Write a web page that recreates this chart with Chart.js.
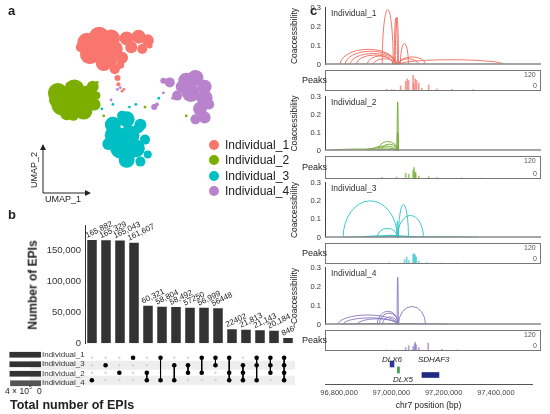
<!DOCTYPE html>
<html><head><meta charset="utf-8">
<script src="https://cdn.jsdelivr.net/npm/chart.js@4.4.0/dist/chart.umd.min.js"></script>
<style>
body{margin:0;width:550px;height:414px;position:relative;background:#fff;font-family:"Liberation Sans",Arial,sans-serif;overflow:hidden}
canvas{position:absolute}
.t{position:absolute;white-space:nowrap;color:#222}
</style></head><body>
<script>
// ---------- DATA ----------
const umapColors=['#F8766D','#7CAE00','#00BFC4','#B982CC'];
const umapLabels=['Individual_1','Individual_2','Individual_3','Individual_4'];
// cluster blobs [x,y,r] in UMAP-plot units
const umap1=[[82,35,10],[95,28,10],[108,30,9],[85,48,10],[100,45,10],[112,42,8],[100,58,8],[125,30,7],[138,28,7],[148,32,6],[130,40,6],[142,42,5],[120,52,6],[112,65,5],[115,75,3],[116,82,2],[75,40,5],[108,55,6],[150,38,3],[118,60,4]];
const umap2=[[50,92,10],[55,105,11],[68,88,10],[70,102,12],[82,95,10],[78,112,9],[60,115,7],[90,105,6],[48,100,7],[88,85,6],[67,118,5],[92,95,4]];
const umap3=[[110,128,8],[125,122,8],[140,128,6],[112,140,10],[128,140,10],[118,155,10],[135,155,9],[125,168,8],[140,170,5],[105,150,6],[145,145,5],[120,118,5],[148,162,4],[138,132,5]];
const umap4=[[190,78,8],[200,75,8],[210,85,7],[195,92,9],[210,98,8],[205,110,7],[210,120,6],[200,122,5],[172,80,5],[165,78,3],[180,95,5],[215,105,5],[185,85,6],[155,108,3],[158,105,2]];
const umapStray=[[120,90,0],[110,105,2],[108,100,3],[128,108,2],[135,105,2],[145,108,1],[98,110,2],[100,118,1],[115,88,3],[118,86,3],[160,98,2],[165,92,3],[175,98,3],[190,118,1],[212,108,1],[93,80,1],[60,82,0],[122,88,0]];

const barValues=[165882,165329,165043,161607,60321,58804,58492,57250,56999,56448,22402,21813,21143,20184,8469];
const barLabels=['165,882','165,329','165,043','161,607','60,321','58,804','58,492','57250','56,999','56448','22402','21,813','21,143','20,184','8469'];
const setRows=['Individual_1','Individual_3','Individual_2','Individual_4'];
const setMembers=[[4],[3],[2],[1],[2,4],[1,4],[3,4],[3,2],[1,2],[1,3],[1,2,4],[3,2,4],[1,3,4],[1,3,2],[1,3,2,4]];
const setTotals=[395000,394000,393000,386000];
const yTicksB=[0,50000,100000,150000];

const trackNames=['Individual_1','Individual_2','Individual_3','Individual_4'];
const trackColors=['#F26B5E','#6FA82C','#2CC3C8','#8877C2'];
// links [start, end, coaccessibility]
const links1=[[96964000,97006000,0.29],[97014000,97026000,0.25],[97010000,97022000,0.245],[97033000,97064000,0.11],[96804000,97018000,0.08],[96823000,97018000,0.07],[96842000,97018000,0.058],[96865000,97006000,0.05],[96907000,97006000,0.045],[96930000,97018000,0.03],[97026000,97129000,0.04],[97026000,97427000,0.025],[97026000,97102000,0.03]];
const links2=[[97022000,97024000,0.27],[97020000,97026000,0.10],[96949000,97022000,0.05],[96961000,97022000,0.035],[96926000,97022000,0.025],[96766000,97022000,0.008],[96900000,97022000,0.015]];
const links3=[[96815000,97022000,0.2],[97026000,97064000,0.18],[97022000,97121000,0.12],[96945000,97022000,0.05],[97020000,97024000,0.09],[96815000,97328000,0.005],[96880000,97090000,0.01],[96960000,97030000,0.012]];
const links4=[[97022000,97024000,0.25],[96796000,97022000,0.05],[96815000,97022000,0.035],[96869000,97022000,0.03],[96945000,97026000,0.07],[96953000,97026000,0.06],[96965000,97022000,0.04],[97026000,97129000,0.095],[96804000,97213000,0.005]];
// peaks [position, height]
const peaks1=[[96804000,10],[96842000,8],[96861000,6],[96911000,30],[96949000,55],[96961000,70],[96972000,60],[97006000,90],[97010000,40],[97022000,70],[97033000,60],[97049000,45],[97072000,15],[97125000,35],[97186000,12],[97301000,10],[97462000,8]];
const peaks2=[[96766000,8],[96880000,10],[96949000,30],[96972000,25],[97006000,45],[97014000,60],[97022000,35],[97026000,30],[97049000,15],[97125000,12],[97186000,8],[97377000,6],[97530000,5]];
const peaks3=[[96823000,6],[96880000,5],[96941000,25],[96957000,40],[96972000,20],[97006000,55],[97014000,60],[97022000,50],[97030000,40],[97049000,15],[97110000,8],[97224000,6],[97339000,5],[97492000,5]];
const peaks4=[[96804000,6],[96880000,5],[96949000,20],[96972000,30],[97006000,25],[97018000,40],[97022000,50],[97030000,35],[97049000,20],[97121000,45],[97224000,10],[97339000,6]];
const genes=[{name:'DLX6',s:96995000,e:97010000,c:'#2b3a9a'},{name:'DLX5',s:97023000,e:97031000,c:'#3aa34a'},{name:'SDHAF3',s:97117000,e:97182000,c:'#1f2a80'}];
const xTicksC=[96800000,97000000,97200000,97400000];
const xMinC=96746000, xMaxTrack=97569000, xMaxAxis=97538000;

// ---------- HELPERS ----------
Chart.defaults.animation=false;
Chart.defaults.font.family='"Liberation Sans",Arial,sans-serif';
function cv(l,t,w,h){const c=document.createElement('canvas');c.width=w;c.height=h;c.style.left=l+'px';c.style.top=t+'px';document.body.appendChild(c);return c;}
function txt(s,l,t,css){const d=document.createElement('div');d.className='t';d.textContent=s;d.style.left=l+'px';d.style.top=t+'px';if(css)d.style.cssText+=css;document.body.appendChild(d);return d;}
const base={responsive:false,maintainAspectRatio:false,plugins:{legend:{display:false},tooltip:{enabled:false}},events:[]};

// ---------- PANEL A ----------
const bub=(arr,c)=>({data:arr.map(p=>({x:p[0],y:p[1],r:p[2]})),backgroundColor:c,borderWidth:0});
new Chart(cv(0,0,290,200),{type:'bubble',data:{datasets:[
 bub(umap1,umapColors[0]),bub(umap2,umapColors[1]),bub(umap3,umapColors[2]),bub(umap4,umapColors[3]),
 {data:umapStray.map((p,i)=>({x:p[0],y:p[1],r:1.4})),backgroundColor:umapStray.map((p,i)=>umapColors[p[2]]),borderWidth:0}
]},options:{...base,layout:{padding:0},scales:{x:{display:false,min:0,max:290},y:{display:false,min:0,max:200,reverse:true}}}});
umapLabels.forEach((s,i)=>{const y=139+i*15.3;
 const d=document.createElement('div');d.style.cssText=`position:absolute;left:209px;top:${y+1}px;width:10px;height:10px;border-radius:50%;background:${umapColors[i]}`;document.body.appendChild(d);
 txt(s,225,y-1,'font-size:12px');});
document.body.insertAdjacentHTML('beforeend',`<svg style="position:absolute;left:0;top:0" width="290" height="200"><path d="M43,193 L43,147 M43,193 L88,193" stroke="#222" stroke-width="1" fill="none"/><path d="M40,150 L43,144 L46,150Z M85,190 L91,193 L85,196Z" fill="#222"/></svg>`);
txt('UMAP_2',16,165,'font-size:9px;transform:rotate(-90deg);transform-origin:center');
txt('UMAP_1',45,194,'font-size:9px');
txt('a',8,3,'font-size:13px;font-weight:bold');
txt('b',8,207,'font-size:13px;font-weight:bold');
txt('c',310,3,'font-size:13px;font-weight:bold');

// ---------- PANEL B ----------
const labelPlugin={id:'bl',afterDatasetsDraw(ch){const ctx=ch.ctx;const m=ch.getDatasetMeta(0);ctx.save();ctx.font='8px "Liberation Sans",Arial';ctx.fillStyle='#222';
 m.data.forEach((el,i)=>{ctx.save();ctx.translate(el.x-5,el.y-2);ctx.rotate(-Math.PI/7);ctx.fillText(barLabels[i],0,0);ctx.restore();});ctx.restore();}};
new Chart(cv(0,205,295,145),{type:'bar',data:{labels:barValues.map((v,i)=>'c'+i),datasets:[{data:barValues,backgroundColor:'#333',barPercentage:0.68,categoryPercentage:1}]},
 options:{...base,layout:{padding:{top:20,right:0,bottom:0}},scales:{x:{display:false},
 y:{min:0,max:190000,afterFit(s){s.width=85},afterBuildTicks(s){s.ticks=yTicksB.map(v=>({value:v}))},grid:{display:false,drawTicks:true,tickLength:3,color:'#333'},border:{color:'#333'},
 ticks:{color:'#333',font:{size:9.5},padding:1,callback:v=>v.toLocaleString('en-US')}}}},plugins:[labelPlugin]});
txt('Number of EPIs',-12,278,'font-size:12px;font-weight:bold;transform:rotate(-90deg);color:#222');

const stripe={id:'st',beforeDraw(ch){const y=ch.scales.y,ctx=ch.ctx;ctx.save();ctx.fillStyle='#eeeeee';[1,3].forEach(i=>{const p=y.getPixelForValue(i);ctx.fillRect(30,p-4.5,ch.width,9);});ctx.restore();}};
const bgDots=[];setRows.forEach((r,ri)=>barValues.forEach((v,i)=>bgDots.push({x:i,y:ri})));
const mds=[{data:bgDots,order:99,showLine:false,pointRadius:1.2,pointBackgroundColor:'#d6d6d6',pointBorderWidth:0}];
setMembers.forEach((mem,i)=>{const rows=[];setRows.forEach((r,ri)=>{if(mem.includes(+r.split('_')[1]))rows.push(ri);});
 mds.push({data:rows.map(ri=>({x:i,y:ri})),order:1,showLine:true,borderColor:'#000',backgroundColor:'#000',borderWidth:1,pointRadius:2.3,pointBackgroundColor:'#000',pointBorderColor:'#000',pointBorderWidth:0});});
new Chart(cv(0,350,295,38),{type:'line',data:{datasets:mds},options:{...base,layout:{padding:{left:85}},scales:{x:{type:'linear',display:false,min:-0.5,max:14.5},
 y:{type:'linear',display:false,min:-0.5,max:3.5,reverse:true}}},plugins:[stripe]});
setRows.forEach((r,i)=>txt(r,42,350+i*9.5-0.5,'font-size:8px;color:#333'));
new Chart(cv(9,350,32,38),{type:'bar',data:{labels:setRows,datasets:[{data:setTotals,backgroundColor:['#333','#333','#333','#555'],barPercentage:0.6,categoryPercentage:1}]},
 options:{...base,indexAxis:'y',layout:{padding:0},scales:{x:{display:false,min:0,max:400000,reverse:true},y:{display:false}}}});
txt('4 × 10',5,386,'font-size:8.5px');txt('5',29,384,'font-size:5px');txt('0',37,386,'font-size:8.5px');
txt('Total number of EPIs',10,398,'font-size:12.5px;font-weight:bold');

// ---------- PANEL C ----------
const arcPlugin={id:'arc',afterDatasetsDraw(ch,a,opt){const x=ch.scales.x,y=ch.scales.y,ctx=ch.ctx,ca=ch.chartArea;ctx.save();ctx.beginPath();ctx.rect(ca.left,ca.top-2,ca.right-ca.left,ca.bottom-ca.top+2);ctx.clip();
 ctx.strokeStyle=opt.color;ctx.lineWidth=0.9;const y0=y.getPixelForValue(0);
 opt.links.forEach(l=>{const x1=x.getPixelForValue(l[0]),x2=x.getPixelForValue(l[1]);ctx.beginPath();ctx.ellipse((x1+x2)/2,y0,Math.max((x2-x1)/2,0.6),y0-y.getPixelForValue(l[2]),0,Math.PI,2*Math.PI);ctx.stroke();});ctx.restore();}};
const boxPlugin={id:'box',afterDraw(ch){const ca=ch.chartArea,ctx=ch.ctx;ctx.save();ctx.strokeStyle='#777';ctx.lineWidth=1;ctx.strokeRect(ca.left+0.5,ca.top+0.5,ca.right-ca.left-1,ca.bottom-ca.top-1);ctx.restore();}};
const tracks=[[7,69,70,91],[96,155,156,179],[182,242,243,264],[267,329,330,351]];
const allLinks=[links1,links2,links3,links4],allPeaks=[peaks1,peaks2,peaks3,peaks4];
tracks.forEach((t,k)=>{
 new Chart(cv(290,t[0]-5,251,t[1]-t[0]+6),{type:'line',data:{datasets:[{data:[]}]},options:{...base,layout:{padding:{top:5,right:0,bottom:0}},
  plugins:{...base.plugins,arc:{links:allLinks[k],color:trackColors[k]}},
  scales:{x:{type:'linear',display:false,min:xMinC,max:xMaxTrack},y:{min:0,max:0.3,afterFit(s){s.width=35},afterBuildTicks(s){s.ticks=[0,0.1,0.2,0.3].map(v=>({value:v}))},
  grid:{display:false,tickLength:3,color:'#444'},border:{color:'#444'},ticks:{font:{size:7.5},color:'#333',padding:1,callback:v=>v===0?'0':v.toFixed(1)},
  title:{display:true,text:'Coaccessibility',font:{size:8.5},color:'#222',padding:0}}}},plugins:[arcPlugin,{id:'bl0',afterDraw(ch){const ca=ch.chartArea,ctx=ch.ctx;ctx.save();ctx.strokeStyle='#888';ctx.lineWidth=1.5;ctx.beginPath();ctx.moveTo(ca.left,ca.bottom-0.5);ctx.lineTo(ca.right,ca.bottom-0.5);ctx.stroke();ctx.restore();}}]});
 txt(trackNames[k],331,t[0]+1,'font-size:8.5px;color:#333');
 new Chart(cv(290,t[2],251,t[3]-t[2]),{type:'bar',data:{datasets:[{data:allPeaks[k].map(p=>({x:p[0],y:p[1]})),backgroundColor:trackColors[k]+'AA',barThickness:1}]},
  options:{...base,layout:{padding:{left:35}},scales:{x:{type:'linear',display:false,min:xMinC,max:xMaxTrack},y:{display:false,min:0,max:120}}},plugins:[boxPlugin]});
 txt('Peaks',302,t[2]+(t[3]-t[2])/2-6,'font-size:9px;color:#222');
 txt('120',524,t[2]+1,'font-size:7px;color:#555');txt('0',533,t[3]-9,'font-size:7px;color:#555');
});
new Chart(cv(290,356,251,55),{type:'bar',data:{labels:['g'],datasets:genes.map(g=>({data:[[g.s,g.e]],backgroundColor:g.c,barThickness:g.name==='SDHAF3'?5:6}))},
 options:{...base,indexAxis:'y',layout:{padding:{left:35,right:9}},scales:{y:{display:false},
 x:{type:'linear',min:xMinC,max:xMaxAxis,afterFit(s){s.height=27},afterBuildTicks(s){s.ticks=xTicksC.map(v=>({value:v}))},grid:{display:false,tickLength:3,color:'#555'},border:{color:'#555'},
 ticks:{font:{size:7.5},color:'#444',maxRotation:0,padding:1,callback:v=>v.toLocaleString('en-US')},title:{display:true,text:'chr7 position (bp)',font:{size:8.5},color:'#222',padding:0}}}}});
txt('DLX6',382,355,'font-size:8px;font-style:italic');
txt('DLX5',393,375,'font-size:8px;font-style:italic');
txt('SDHAF3',418,355,'font-size:8px;font-style:italic');
</script></body></html>
